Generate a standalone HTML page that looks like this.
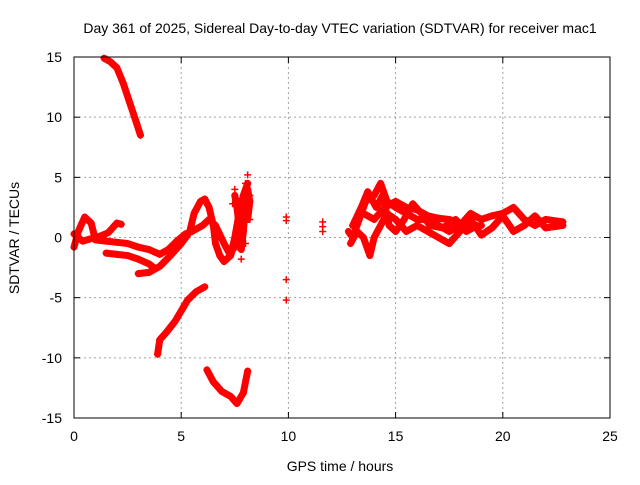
<!DOCTYPE html>
<html><head><meta charset="utf-8"><style>
body{margin:0;background:#fff}
svg{font-family:"Liberation Sans",sans-serif;font-size:14px}
</style></head><body>
<svg id="chart" width="640" height="480">
<text x="340" y="33" text-anchor="middle">Day 361 of 2025, Sidereal Day-to-day VTEC variation (SDTVAR) for receiver mac1</text>
<text x="340" y="471" text-anchor="middle">GPS time / hours</text>
<text transform="translate(19,238) rotate(-90)" text-anchor="middle">SDTVAR / TECUs</text>
<g id="grid"></g><g id="ticks"></g><g id="marks"></g>
<rect x="74" y="57" width="536" height="361" fill="none" stroke="#000"/>
</svg>
<script>
const xTicks=[0,5,10,15,20,25];
const yTicks=[-15,-10,-5,0,5,10,15];
const seriesTop=[[1.4,14.9],[1.7,14.6],[2.0,14.1],[2.3,12.8],[2.6,11.2],[2.9,9.6],[3.1,8.5]];
const seriesNegRise=[[3.9,-9.7],[4.0,-8.5],[4.3,-7.9],[4.7,-7.0],[5.0,-6.1],[5.3,-5.2],[5.7,-4.5],[6.1,-4.1]];
const seriesBottom=[[6.2,-11],[6.5,-12],[6.9,-12.8],[7.3,-13.2],[7.6,-13.8],[7.9,-12.9],[8.1,-11.1]];
const seriesA=[[0,-0.8],[0.2,0.5],[0.5,1.7],[0.8,1.2],[1.0,-0.2],[1.5,-0.3],[2.0,-0.4],[2.5,-0.5],[3.0,-0.8],[3.5,-1.0],[4.0,-1.4],[4.4,-1.0],[4.8,-0.3],[5.2,0.3],[5.5,0.5],[6.0,1.0],[6.3,1.5],[6.6,1.0],[7.0,-0.5],[7.3,-1.5],[7.6,0],[8.0,2]];
const seriesB=[[0,0.3],[0.4,-0.3],[1.2,0.1],[1.6,0.4],[2.0,1.2],[2.2,1.1]];
const seriesC=[[1.5,-1.3],[2.0,-1.4],[2.5,-1.5],[3.0,-1.8],[3.5,-2.2],[3.8,-2.6]];
const seriesC2=[[3.0,-3.0],[3.5,-2.9],[4.0,-2.4],[4.5,-1.5],[5.0,-0.5],[5.3,0.2]];
const seriesD=[[5.4,0.5],[5.6,2.0],[5.9,3.0],[6.1,3.2],[6.3,2.5],[6.5,1.0],[6.6,-0.5],[6.8,-1.5],[7.0,-2.0],[7.3,-1.5],[7.5,0],[7.7,2],[7.9,3.5],[8.1,4.5]];
const seriesF=[[7.5,3.5],[7.6,2.5],[7.7,1.0],[7.8,-1.0],[7.9,0.5],[8.0,3.0],[8.1,4.0],[8.2,3.0],[8.1,1.5]];
const seriesE=[[7.5,4],[7.7,3],[7.9,2.5],[8.0,4.5],[8.1,5.2],[8.2,3.5],[7.8,-1.8],[8.0,-0.5],[8.2,1.5],[7.6,-0.8],[7.4,2.8]];
const isolated=[[9.9,1.7],[9.9,1.4],[9.9,-3.5],[9.9,-5.2],[11.6,0.5],[11.6,1.3],[11.6,0.9]];
const seriesR1=[[12.8,0.5],[13.0,0],[13.3,1.5],[13.6,3],[14.0,3.5],[14.3,4.5],[14.6,3],[15.0,2.5],[15.5,2],[16.0,1.5],[16.5,1.5],[17.0,1],[17.5,0.5],[18.0,1],[18.5,2],[19.0,1.5],[19.5,1.8],[20.0,2],[20.5,2.5],[21.0,1.5],[21.5,1],[22.0,1.5],[22.8,1.3]];
const seriesR2=[[12.9,-0.5],[13.2,0.5],[13.5,0],[13.8,-1.5],[14.0,0],[14.3,1],[14.6,2],[15.0,1.5],[15.5,0.5],[16.0,1.0],[16.5,0.5],[17.0,0],[17.5,-0.5],[18.0,0.5],[18.5,1.5],[19.0,0.2],[19.5,0.8],[20.0,1.8],[20.5,0.5],[21.0,1.0],[21.5,1.8],[22.0,0.8],[22.8,1.0]];
const seriesR3=[[13.5,2],[14.0,1.5],[14.5,2.5],[15.0,3],[15.5,2.5],[16.0,2.3],[16.5,1.8],[17.0,1.6],[17.5,1.5],[18.0,1.2],[18.5,0.8],[19.0,1.0]];
const seriesR4=[[13.0,1.0],[13.4,2.5],[13.7,3.8],[14.1,2.5],[14.4,3.5],[14.7,1.0],[15.0,0.5],[15.4,1.5],[15.8,2.8],[16.2,2.0],[16.6,1.0],[17.2,0.8],[17.8,1.5],[18.3,0.5],[18.8,1.0]];
const lineSeries=[seriesTop,seriesNegRise,seriesBottom,seriesA,seriesB,seriesC,seriesC2,seriesD,seriesF,seriesR1,seriesR2,seriesR3,seriesR4];
const scatterSeries=[seriesE,isolated];

const X0=74,X1=610,Y0=418,Y1=57;
function sx(v){return X0+(v-0)/(25-0)*(X1-X0);}
function sy(v){return Y0-(v+15)/30*(Y0-Y1);}
const NS="http://www.w3.org/2000/svg";
function mk(tag,attrs,parent){const e=document.createElementNS(NS,tag);for(const k in attrs)e.setAttribute(k,attrs[k]);parent.appendChild(e);return e;}
const grid=document.getElementById('grid'),ticks=document.getElementById('ticks'),marks=document.getElementById('marks');
xTicks.forEach(t=>{
  const x=sx(t);
  if(t>0&&t<25){const g=mk('line',{x1:x,x2:x,y1:Y1,y2:Y0,stroke:'#a0a0a0','stroke-dasharray':'2,3'},grid);
  
  }
  mk('line',{x1:x,x2:x,y1:Y0,y2:Y0-6,stroke:'#000'},ticks);
  mk('line',{x1:x,x2:x,y1:Y1,y2:Y1+6,stroke:'#000'},ticks);
  const l=mk('text',{x:x,y:Y0+23,'text-anchor':'middle'},ticks);l.textContent=t;
  
  
});
yTicks.forEach(t=>{
  const y=sy(t);
  if(t>-15&&t<15){const g=mk('line',{x1:X0,x2:X1,y1:y,y2:y,stroke:'#a0a0a0','stroke-dasharray':'2,3'},grid);
  
  }
  mk('line',{x1:X0,x2:X0+6,y1:y,y2:y,stroke:'#000'},ticks);
  mk('line',{x1:X1,x2:X1-6,y1:y,y2:y,stroke:'#000'},ticks);
  const l=mk('text',{x:X0-12,y:y+5,'text-anchor':'end'},ticks);l.textContent=t;
  
  
});
function plus(x,y){
  const p=mk('path',{d:`M${x-3.5},${y}H${x+3.5}M${x},${y-3.5}V${y+3.5}`,stroke:'#f00','stroke-width':1.5},marks);
  
  
}
lineSeries.forEach(s=>{
  const pl=mk('polyline',{points:s.map(p=>sx(p[0])+','+sy(p[1])).join(' '),fill:'none',stroke:'#f00','stroke-width':7,'stroke-linejoin':'round','stroke-linecap':'round'},marks);
  
  
  s.forEach(p=>plus(sx(p[0]),sy(p[1])));
});
scatterSeries.forEach(s=>s.forEach(p=>plus(sx(p[0]),sy(p[1]))));
</script>
</body></html>
